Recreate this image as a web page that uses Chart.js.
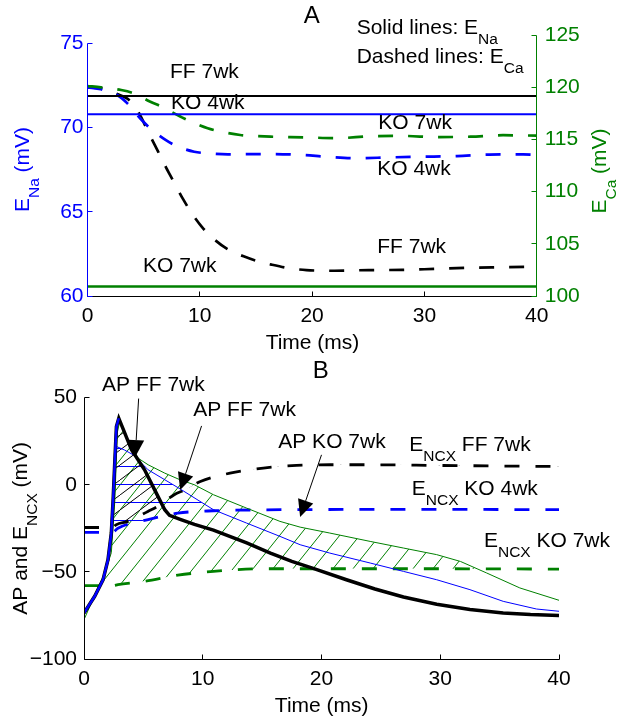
<!DOCTYPE html>
<html><head><meta charset="utf-8">
<script src="https://cdn.jsdelivr.net/npm/chart.js@4.4.1/dist/chart.umd.min.js"></script>
<style>
html,body{margin:0;padding:0;background:#fff;}
#wrap{position:relative;width:618px;height:724px;overflow:hidden;}
canvas{position:absolute;left:0;}
#cA{top:0;}
#cB{top:360px;}
</style></head><body>
<div id="wrap"><canvas id="cA" width="618" height="360"></canvas><canvas id="cB" width="618" height="364"></canvas></div>
<script>
// ---------------- DATA ----------------
const timeTicks = [0, 10, 20, 30, 40];
const eNaTicks = [60, 65, 70, 75];
const eCaTicks = [100, 105, 110, 115, 120, 125];
const apTicks = [-100, -50, 0, 50];

// Panel A – E_Na (solid, left axis)
const naT = [0, 40];
const naFF = [71.87, 71.87];
const naKO4 = [70.79, 70.79];
const naKO7 = [60.57, 60.57];

// Panel A – E_Ca (dashed, right axis)
const caFF_t = [0, 1.5, 2.65, 3.55, 4.2, 4.74, 5.5, 6.3, 7.0, 7.7, 8.5, 9.3, 10.2, 11.2, 12.6, 13.9, 15.1, 16.4, 18.0, 19.5, 22.0, 25.0, 28.0, 31.0, 34.0, 37.0, 40];
const caFF_v = [120.0, 119.85, 119.35, 118.9, 118.2, 117.2, 115.5, 113.8, 112.3, 110.9, 109.3, 107.9, 106.6, 105.5, 104.4, 103.8, 103.35, 103.0, 102.65, 102.48, 102.42, 102.48, 102.5, 102.6, 102.7, 102.75, 102.8];
const caKO4_t = [0, 1.2, 2.65, 3.55, 4.7, 5.6, 6.95, 7.85, 9.5, 10.7, 12.5, 16.5, 19.2, 21.3, 24.0, 26.9, 29.9, 32.9, 35.8, 38.8, 40];
const caKO4_v = [119.99, 119.8, 119.25, 118.45, 117.0, 116.05, 114.95, 114.4, 113.82, 113.67, 113.57, 113.6, 113.5, 113.34, 113.2, 113.28, 113.34, 113.4, 113.55, 113.57, 113.52];
const caKO7_t = [0, 1.2, 3.0, 4.1, 5.6, 6.6, 8.3, 9.2, 10.7, 11.9, 13.6, 14.8, 16.3, 19.2, 22.2, 25.2, 28.1, 31.1, 34.1, 37.0, 40];
const caKO7_v = [120.11, 119.99, 119.73, 119.42, 118.61, 118.13, 117.17, 116.7, 116.06, 115.74, 115.42, 115.33, 115.26, 115.2, 115.12, 115.3, 115.33, 115.22, 115.26, 115.4, 115.36];

// Panel B – action potentials
const apFF_t = [0, 0.9, 1.6, 2.02, 2.3, 2.45, 2.6, 2.73, 2.93, 3.3, 4.0, 5.1, 5.95, 6.8, 7.2, 8.1, 9.3, 10.9, 13.7, 15.7, 17.5, 19.3, 22.1, 24.5, 26.9, 29.7, 32.5, 35.3, 37.6, 40];
const apFF_v = [-73.6, -64, -54.6, -43, -27.7, -8.6, 14.3, 33.4, 38.2, 32, 20.1, 8.6, -2.9, -14.3, -17.5, -19.8, -22.7, -26.0, -33.4, -39.2, -44, -48, -54.5, -59.8, -64.4, -68.6, -71.6, -73.6, -74.5, -75.0];
const apKO4rise_t = [0, 0.9, 1.6, 2.02, 2.3, 2.45, 2.6, 2.73, 2.93];
const apKO4rise_v = [-73.6, -64, -54.6, -43, -27.7, -8.6, 14.3, 33.4, 38.2];
const apKO4_t = [2.3, 2.45, 2.6, 2.73, 3.4, 4.15, 5.4, 6.8, 8.1, 9.6, 10.9, 13.7, 16.5, 18.2, 20.7, 24.1, 26.9, 29.7, 32.5, 35.3, 38.1, 40];
const apKO4_v = [-27.7, -8.6, 14.3, 22, 20, 17.2, 8.6, 2.9, -2.4, -8.8, -14.3, -22, -29.6, -34.4, -39.2, -44.9, -49.7, -54.5, -60.2, -66.9, -71.3, -72.6];
const apKO7_t = [0, 0.9, 1.74, 2.3, 2.6, 2.8, 3.0, 3.7, 4.55, 5.4, 6.8, 8.08, 9.3, 10.9, 13.7, 16.5, 18.2, 20.7, 24.1, 26.9, 29.7, 31.7, 33.9, 36.7, 40];
const apKO7_v = [-77.4, -63.5, -50.6, -39, -8.6, 29.8, 36.3, 25.8, 15.3, 11.5, 6.7, 2.9, 0, -5.7, -13.4, -21, -24.3, -27.7, -32.5, -36.3, -40.1, -44, -50.6, -59.2, -66.3];

// Panel B – E_NCX (dashed)
const ncxFF_t = [0, 2.4, 2.72, 3.7, 5.38, 6.2, 7.6, 8.5, 9.8, 12.3, 15.1, 17.9, 20.7, 24.3, 30, 35, 40];
const ncxFF_v = [-24.5, -24.5, -22.9, -21, -15.3, -12.4, -5.7, -2.9, 1.9, 6.7, 9.6, 11.1, 11.5, 11.5, 11.1, 10.8, 10.5];
const ncxKO4_t = [0, 2.4, 2.86, 5.4, 7.9, 10.9, 15, 20, 30, 40];
const ncxKO4_v = [-27.3, -27.3, -24.9, -20, -16.3, -14.9, -14.4, -14.2, -14.1, -14.3];
const ncxKO7_t = [0, 2.4, 2.86, 5.1, 7.9, 10.9, 15.1, 20, 30, 40];
const ncxKO7_v = [-57.9, -57.9, -57.3, -55.4, -51.9, -49.7, -48.2, -48.2, -48.2, -48.4];

// Text annotations (data units)
const labelsA = [
  {t: 7.35, v: 73.3, parts: [['FF 7wk', 0]]},
  {t: 7.44, v: 71.43, parts: [['KO 4wk', 0]]},
  {t: 4.94, v: 61.77, parts: [['KO 7wk', 0]]},
  {t: 25.9, v: 70.25, parts: [['KO 7wk', 0]]},
  {t: 25.8, v: 67.52, parts: [['KO 4wk', 0]]},
  {t: 25.8, v: 62.92, parts: [['FF 7wk', 0]]},
  {t: 23.97, v: 75.9, parts: [['Solid lines: E', 0], ['Na', 1]]},
  {t: 23.97, v: 74.17, parts: [['Dashed lines: E', 0], ['Ca', 1]]}
];
const labelsB = [
  {t: 1.52, v: 57.3, parts: [['AP FF 7wk', 0]]},
  {t: 9.2, v: 43.0, parts: [['AP FF 7wk', 0]]},
  {t: 16.36, v: 24.65, parts: [['AP KO 7wk', 0]]},
  {t: 27.39, v: 22.94, parts: [['E', 0], ['NCX', 1], [' FF 7wk', 0]]},
  {t: 27.6, v: -2.47, parts: [['E', 0], ['NCX', 1], [' KO 4wk', 0]]},
  {t: 33.68, v: -32.5, parts: [['E', 0], ['NCX', 1], [' KO 7wk', 0]]}
];
const arrowsB = [
  {from: [4.6, 49.5], to: [4.31, 15.9]},
  {from: [9.9, 33.8], to: [8.1, -3.0]},
  {from: [20.0, 17.2], to: [18.2, -18.5]}
];

// ---------------- STYLE / HELPERS ----------------
const FONT = '"Liberation Sans", Arial, Helvetica, sans-serif';
const BLUE = '#0000ff', GREEN = '#008000', BLACK = '#000000';
const pts = (t, v) => t.map((x, i) => ({x: x, y: v[i]}));
const fmt = v => String(v).replace('-', '\u2212');

function drawRich(ctx, x, y, parts, o) {
  o = o || {};
  const size = o.size || 21, sub = o.sub || 15.5, dy = (o.dy === undefined ? 11.5 : o.dy);
  ctx.save();
  ctx.fillStyle = o.color || BLACK;
  ctx.textBaseline = 'middle';
  ctx.textAlign = 'left';
  const fm = size + 'px ' + FONT, fs = sub + 'px ' + FONT;
  let w = 0;
  const ws = parts.map(p => { ctx.font = p[1] ? fs : fm; const m = ctx.measureText(p[0]).width; w += m; return m; });
  ctx.translate(x, y);
  if (o.rot) ctx.rotate(o.rot);
  let cx = o.align === 'center' ? -w / 2 : (o.align === 'right' ? -w : 0);
  parts.forEach((p, i) => { ctx.font = p[1] ? fs : fm; ctx.fillText(p[0], cx, p[1] ? dy : 0); cx += ws[i]; });
  ctx.restore();
}
function seg(ctx, x1, y1, x2, y2, color, w) {
  ctx.save(); ctx.strokeStyle = color; ctx.lineWidth = w || 1;
  ctx.beginPath(); ctx.moveTo(x1, y1); ctx.lineTo(x2, y2); ctx.stroke(); ctx.restore();
}
const crisp = v => Math.floor(v) + 0.5;

function hatchDiag(w, h, color) {
  const c = document.createElement('canvas'); c.width = w; c.height = h;
  const g = c.getContext('2d'); g.strokeStyle = color; g.lineWidth = 1;
  [-w, 0, w].forEach(dx => { g.beginPath(); g.moveTo(dx, h); g.lineTo(dx + w, 0); g.stroke(); });
  return g.createPattern(c, 'repeat');
}
function hatchHoriz(w, h, off, color) {
  const c = document.createElement('canvas'); c.width = w; c.height = h;
  const g = c.getContext('2d'); g.strokeStyle = color; g.lineWidth = 1;
  g.beginPath(); g.moveTo(0, off + 0.5); g.lineTo(w, off + 0.5); g.stroke();
  return g.createPattern(c, 'repeat');
}

const tickFont = {family: FONT, size: 21};
function xScale(h, pad) {
  return {
    type: 'linear', position: 'bottom', min: 0, max: 40,
    grid: {display: false, drawTicks: false}, border: {display: false},
    afterBuildTicks: s => { s.ticks = timeTicks.map(v => ({value: v})); },
    afterFit: s => { s.height = h; },
    ticks: {font: tickFont, color: BLACK, padding: pad, maxRotation: 0, autoSkip: false, callback: fmt}
  };
}
function yScale(pos, min, max, list, w, pad, color) {
  return {
    type: 'linear', position: pos, min: min, max: max,
    grid: {display: false, drawTicks: false}, border: {display: false},
    afterBuildTicks: s => { s.ticks = list.map(v => ({value: v})); },
    afterFit: s => { s.width = w; },
    ticks: {font: tickFont, color: color, padding: pad, autoSkip: false, callback: fmt}
  };
}

// ---------------- PANEL A ----------------
const panelA = {
  id: 'panelA',
  afterDraw(chart) {
    const ctx = chart.ctx, x = chart.scales.x, yl = chart.scales.y, yr = chart.scales.y2;
    const xL = crisp(x.getPixelForValue(0)), xR = crisp(x.getPixelForValue(40));
    const yB = crisp(yl.getPixelForValue(60));
    seg(ctx, xL, yB, xR, yB, BLACK, 1);
    timeTicks.forEach(v => { const px = crisp(x.getPixelForValue(v)); seg(ctx, px, yB, px, yB - 5, BLACK, 1); });
    seg(ctx, xL, crisp(yl.getPixelForValue(75)), xL, yB, BLUE, 1);
    eNaTicks.forEach(v => { const py = crisp(yl.getPixelForValue(v)); seg(ctx, xL, py, xL + 5, py, BLUE, 1); });
    seg(ctx, xR, crisp(yr.getPixelForValue(125)), xR, yB, GREEN, 1);
    eCaTicks.forEach(v => { const py = crisp(yr.getPixelForValue(v)); seg(ctx, xR, py, xR - 5, py, GREEN, 1); });
    labelsA.forEach(l => drawRich(ctx, x.getPixelForValue(l.t), yl.getPixelForValue(l.v), l.parts));
    drawRich(ctx, 312.5, 343.3, [['Time (ms)', 0]], {align: 'center'});
    drawRich(ctx, 23.3, 169.5, [['E', 0], ['Na', 1], [' (mV)', 0]], {align: 'center', rot: -Math.PI / 2, color: BLUE});
    drawRich(ctx, 600, 171, [['E', 0], ['Ca', 1], [' (mV)', 0]], {align: 'center', rot: -Math.PI / 2, color: GREEN});
    drawRich(ctx, 311.7, 16.7, [['A', 0]], {align: 'center', size: 24});
  }
};

new Chart(document.getElementById('cA'), {
  type: 'line',
  data: {datasets: [
    {label: 'E_Na FF 7wk', data: pts(naT, naFF), yAxisID: 'y', borderColor: BLACK, borderWidth: 2, order: 0},
    {label: 'E_Na KO 4wk', data: pts(naT, naKO4), yAxisID: 'y', borderColor: BLUE, borderWidth: 2, order: 1},
    {label: 'E_Na KO 7wk', data: pts(naT, naKO7), yAxisID: 'y', borderColor: GREEN, borderWidth: 2.5, order: 2},
    {label: 'E_Ca FF 7wk', data: pts(caFF_t, caFF_v), yAxisID: 'y2', borderColor: BLACK, borderWidth: 2.7, borderDash: [15, 15], cubicInterpolationMode: 'monotone', order: 5},
    {label: 'E_Ca KO 4wk', data: pts(caKO4_t, caKO4_v), yAxisID: 'y2', borderColor: BLUE, borderWidth: 2.7, borderDash: [15, 15], cubicInterpolationMode: 'monotone', order: 4},
    {label: 'E_Ca KO 7wk', data: pts(caKO7_t, caKO7_v), yAxisID: 'y2', borderColor: GREEN, borderWidth: 2.7, borderDash: [15, 15], cubicInterpolationMode: 'monotone', order: 3}
  ]},
  options: {
    responsive: false, animation: false, devicePixelRatio: 1,
    layout: {padding: {top: 35, left: 0, right: 0, bottom: 0}},
    plugins: {legend: {display: false}, tooltip: {enabled: false}},
    elements: {point: {radius: 0}, line: {tension: 0, fill: false}},
    scales: {
      x: xScale(64, 8),
      y: yScale('left', 60, 75.5, eNaTicks, 87.5, 4, BLUE),
      y2: yScale('right', 100, 125, eCaTicks, 81.3, 8, GREEN)
    }
  },
  plugins: [panelA]
});

// ---------------- PANEL B ----------------
const patBlack = hatchDiag(20, 15, BLACK);
const patBlue = hatchHoriz(8, 18, 16, BLUE);
const patGreen = hatchDiag(20, 25, GREEN);
const clear = 'rgba(0,0,0,0)';

const panelB = {
  id: 'panelB',
  afterDraw(chart) {
    const ctx = chart.ctx, x = chart.scales.x, y = chart.scales.y;
    const xL = crisp(x.getPixelForValue(0)), xR = crisp(x.getPixelForValue(40));
    const yB = crisp(y.getPixelForValue(-100)), yT = crisp(y.getPixelForValue(50));
    seg(ctx, xL, yB, xR, yB, BLACK, 1);
    timeTicks.forEach(v => { const px = crisp(x.getPixelForValue(v)); seg(ctx, px, yB, px, yB - 5, BLACK, 1); });
    seg(ctx, xL, yT, xL, yB, BLACK, 1);
    apTicks.forEach(v => { const py = crisp(y.getPixelForValue(v)); seg(ctx, xL, py, xL + 5, py, BLACK, 1); });
    // arrows
    arrowsB.forEach(a => {
      const x1 = x.getPixelForValue(a.from[0]), y1 = y.getPixelForValue(a.from[1]);
      const x2 = x.getPixelForValue(a.to[0]), y2 = y.getPixelForValue(a.to[1]);
      const ang = Math.atan2(y2 - y1, x2 - x1), L = 17, H = 8;
      const bx = x2 - L * Math.cos(ang), by = y2 - L * Math.sin(ang);
      seg(ctx, x1, y1, bx, by, BLACK, 1);
      ctx.save(); ctx.fillStyle = BLACK; ctx.beginPath();
      ctx.moveTo(x2, y2);
      ctx.lineTo(bx + H * Math.sin(ang), by - H * Math.cos(ang));
      ctx.lineTo(bx - H * Math.sin(ang), by + H * Math.cos(ang));
      ctx.closePath(); ctx.fill(); ctx.restore();
    });
    labelsB.forEach(l => drawRich(ctx, x.getPixelForValue(l.t), y.getPixelForValue(l.v), l.parts));
    drawRich(ctx, 321.7, 346.7, [['Time (ms)', 0]], {align: 'center'});
    drawRich(ctx, 21.7, 168.3, [['AP and E', 0], ['NCX', 1], [' (mV)', 0]], {align: 'center', rot: -Math.PI / 2});
    drawRich(ctx, 320.7, 11.7, [['B', 0]], {align: 'center', size: 24});
  }
};

new Chart(document.getElementById('cB'), {
  type: 'line',
  data: {datasets: [
    {label: 'AP KO 4wk upstroke', data: pts(apKO4rise_t, apKO4rise_v), borderColor: BLUE, borderWidth: 2.5, order: 0},
    {label: 'AP FF 7wk', data: pts(apFF_t, apFF_v), borderColor: BLACK, borderWidth: 3.5, order: 1,
     fill: {target: 4, above: patBlack, below: clear}},
    {label: 'AP KO 4wk', data: pts(apKO4_t, apKO4_v), borderColor: BLUE, borderWidth: 1, order: 2,
     fill: {target: 5, above: patBlue, below: clear}},
    {label: 'AP KO 7wk', data: pts(apKO7_t, apKO7_v), borderColor: GREEN, borderWidth: 1, order: 3,
     fill: {target: 6, above: patGreen, below: clear}},
    {label: 'E_NCX FF 7wk', data: pts(ncxFF_t, ncxFF_v), borderColor: BLACK, borderWidth: 2.8, borderDash: [15, 16], cubicInterpolationMode: 'monotone', order: 4},
    {label: 'E_NCX KO 4wk', data: pts(ncxKO4_t, ncxKO4_v), borderColor: BLUE, borderWidth: 2.8, borderDash: [15, 16], cubicInterpolationMode: 'monotone', order: 5},
    {label: 'E_NCX KO 7wk', data: pts(ncxKO7_t, ncxKO7_v), borderColor: GREEN, borderWidth: 2.8, borderDash: [15, 16], cubicInterpolationMode: 'monotone', order: 6}
  ]},
  options: {
    responsive: false, animation: false, devicePixelRatio: 1,
    layout: {padding: {top: 37.7, left: 0, right: 59, bottom: 0}},
    plugins: {legend: {display: false}, tooltip: {enabled: false}, filler: {drawTime: 'beforeDatasetsDraw'}},
    elements: {point: {radius: 0}, line: {tension: 0}},
    scales: {
      x: xScale(65, 8),
      y: yScale('left', -100, 50, apTicks, 84, 7, BLACK)
    }
  },
  plugins: [panelB]
});
</script>
</body></html>
